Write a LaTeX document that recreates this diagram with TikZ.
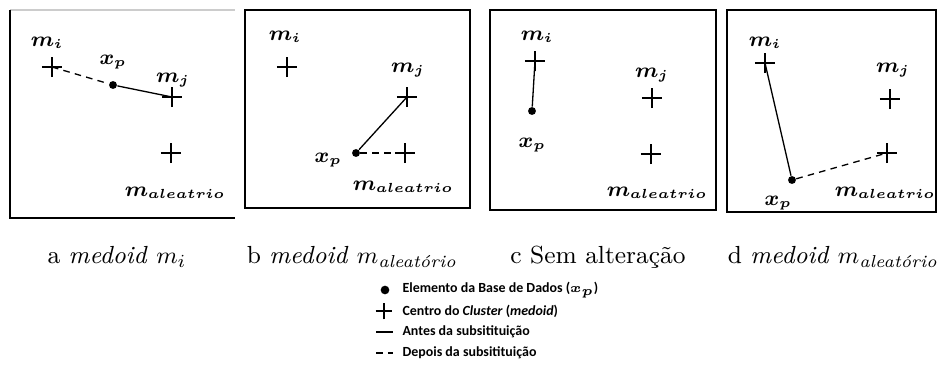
\documentclass[tikz,border=0pt]{standalone}
\usepackage{fontspec}
\usepackage{amsmath}
\usepackage{bm}
\usetikzlibrary{shapes.misc, positioning}
\newfontfamily\legfont{Carlito}
\DeclareMathSizes{8}{8}{4.6}{4}

\begin{document}
\begin{tikzpicture}[
    x=0.38pt, y=-0.38pt,
    frame/.style={draw=black, line width=0.6pt},
    centro/.style={cross out, draw, rotate=45, minimum size=5pt, inner sep=0pt, line width=0.5pt},
    ponto/.style={circle, fill=black, minimum size=3pt, inner sep=0pt},
    rot/.style={font=\fontsize{8}{9}\selectfont, inner sep=0pt},
    antes/.style={line width=0.5pt},
    depois/.style={line width=0.5pt, dash pattern=on 2.5pt off 2pt},
    legenda/.style={font=\legfont\bfseries\fontsize{5.3}{6.5}\selectfont, anchor=west, inner sep=0pt},
    subfig/.style={font=\fontsize{9.4}{11}\selectfont, inner sep=0pt},
  ]
    \useasboundingbox (0,0) rectangle (941,367);

    % a
    \draw[frame, draw=gray!40] (10,10) -- (235,10);
    \draw[frame] (10,10) -- (10,218) -- (235,218);
    \node[centro] (ami) at (52,67) {};
    \node[centro] (amj) at (172,97) {};
    \node[centro] (ama) at (171,153) {};
    \node[ponto] (axp) at (113,85) {};
    \node[rot] at (47,43) {$\bm{m_i}$};
    \node[rot] at (113,62) {$\bm{x_p}$};
    \node[rot] at (173,80) {$\bm{m_j}$};
    \node[rot] at (175,193) {$\bm{m_{aleatrio}}$};
    \draw[depois] (ami.center) -- (axp);
    \draw[antes] (axp) -- (amj.center);

    % b
    \draw[frame] (245,10) rectangle (470,208);
    \node[centro] (bmi) at (287,67) {};
    \node[centro] (bmj) at (407,97) {};
    \node[centro] (bma) at (405,153) {};
    \node[ponto] (bxp) at (356,153) {};
    \node[rot] at (285,37) {$\bm{m_i}$};
    \node[rot] at (328,160) {$\bm{x_p}$};
    \node[rot] at (408,70) {$\bm{m_j}$};
    \node[rot] at (403,187) {$\bm{m_{aleatrio}}$};
    \draw[antes] (bxp) -- (bmj.center);
    \draw[depois] (bxp) -- (bma.center);

    % c
    \draw[frame] (490,10) rectangle (716,210);
    \node[centro] (cmi) at (535,61) {};
    \node[centro] (cmj) at (652,98) {};
    \node[centro] (cma) at (651,154) {};
    \node[ponto] (cxp) at (532,111) {};
    \node[rot] at (537,37) {$\bm{m_i}$};
    \node[rot] at (532,145) {$\bm{x_p}$};
    \node[rot] at (652,75) {$\bm{m_j}$};
    \node[rot] at (657,193) {$\bm{m_{aleatrio}}$};
    \draw[antes] (cmi.center) -- (cxp);

    % d
    \draw[frame] (727,10) rectangle (936,212);
    \node[centro] (dmi) at (765,63) {};
    \node[centro] (dmj) at (890,99) {};
    \node[centro] (dma) at (887,153) {};
    \node[ponto] (dxp) at (792,180) {};
    \node[rot] at (765,43) {$\bm{m_i}$};
    \node[rot] at (778,203) {$\bm{x_p}$};
    \node[rot] at (893,70) {$\bm{m_j}$};
    \node[rot] at (885,193) {$\bm{m_{aleatrio}}$};
    \draw[antes] (dmi.center) -- (dxp);
    \draw[depois] (dxp) -- (dma.center);

    % legendas das subfiguras
    \node[subfig] (capa) at (117,257) {a \textit{medoid} $m_i$};
    \node[subfig] (capb) at (352,257) {b \textit{medoid} $m_{\text{\itshape aleatório}}$};
    \node[subfig] (capc) at (598,257) {c Sem alteração};
    \node[subfig] (capd) at (833,257) {d \textit{medoid} $m_{\text{\itshape aleatório}}$};

    % legenda
    \node[ponto, minimum size=3.3pt] (l1) at (385,290) {};
    \node[legenda] (t1) at (402,290) {Elemento da Base de Dados ($\bm{x_p}$)};
    \node[centro, minimum size=4pt] (l2) at (384,311) {};
    \node[legenda] (t2) at (402,311) {Centro do \textit{Cluster} (\textit{medoid})};
    \coordinate (l3a) at (376,332);
    \coordinate (l3b) at (393,332);
    \draw[antes] (l3a) -- (l3b);
    \node[legenda] (t3) at (402,332) {Antes da subsitituição};
    \coordinate (l4a) at (376,353);
    \coordinate (l4b) at (393,353);
    \draw[depois] (l4a) -- (l4b);
    \node[legenda] (t4) at (402,353) {Depois da subsitituição};
  \end{tikzpicture}
\end{document}
